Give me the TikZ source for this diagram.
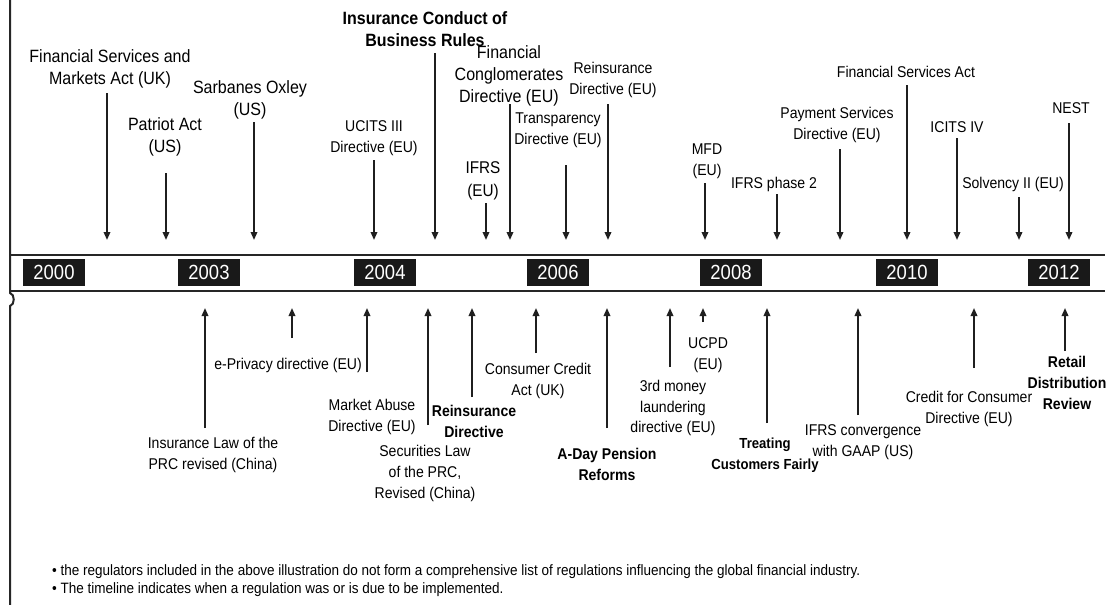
\documentclass[tikz,border=0pt]{standalone}
\usepackage{fontspec}
\setmainfont{Liberation Sans}[FakeStretch=0.9]
\usetikzlibrary{arrows.meta, positioning}

\tikzset{
	reg/.style = {align=center, inner sep=0pt, font=\fontsize{15.6}{21}\selectfont},
	regl/.style = {reg, font=\fontsize{17.8}{21.7}\selectfont},
	regb/.style = {reg, font=\fontsize{15.6}{21}\selectfont\bfseries},
	reglb/.style = {reg, font=\fontsize{17.8}{22}\selectfont\bfseries},
	regdown/.style = {line width=1.8pt, draw=black!88, -{Triangle[length=8pt, width=6.5pt]}},
	regup/.style = {regdown},
	band/.style = {line width=2pt, draw=black!85},
	yearbox/.style = {fill=black!90, text=white, minimum width=62pt, minimum height=27pt, inner sep=0pt, font=\fontsize{20.5}{20.5}\selectfont},
	note/.style = {align=left, inner sep=0pt, font=\fontsize{15}{18}\selectfont},
}

\begin{document}
\begin{tikzpicture}[x=1pt, y=-1pt]
		\useasboundingbox (0,0) rectangle (1109,605);

		% time axis
		\coordinate (axisTop) at (10,-2);
		\coordinate (axisBot) at (10,607);
		\draw [band] (axisTop) -- (10,293) .. controls (15,294) and (15,305) .. (10,306) -- (axisBot);
		\coordinate (bandTL) at (10,255);
		\coordinate (bandTR) at (1105,255);
		\coordinate (bandBL) at (10,291);
		\coordinate (bandBR) at (1105,291);
		\draw [band] (bandTL) -- (bandTR);
		\draw [band] (bandBL) -- (bandBR);

		\node [yearbox] (y2000) at (54,272.5) {2000};
		\node [yearbox] (y2003) at (209,272.5) {2003};
		\node [yearbox] (y2004) at (385,272.5) {2004};
		\node [yearbox] (y2006) at (558,272.5) {2006};
		\node [yearbox] (y2008) at (731,272.5) {2008};
		\node [yearbox] (y2010) at (907,272.5) {2010};
		\node [yearbox] (y2012) at (1059,272.5) {2012};

		% above the axis
		\node [regl] (fsma) at (110,69) {Financial Services and\\Markets Act (UK)};
		\node [regl] (patriot) at (165,137) {Patriot Act\\(US)};
		\node [regl] (sox) at (250,100) {Sarbanes Oxley\\(US)};
		\node [reg] (ucits) at (374,138) {UCITS III\\Directive (EU)};
		\node [reglb] (icobs) at (425,29) {Insurance Conduct of\\Business Rules};
		\node [reg, font=\fontsize{17}{22.5}\selectfont] (ifrs) at (483,181) {IFRS\\(EU)};
		\node [regl] (fcd) at (509,76) {Financial\\Conglomerates\\Directive (EU)};
		\node [reg] (tpd) at (558,130) {Transparency\\Directive (EU)};
		\node [reg] (reins) at (613,80) {Reinsurance\\Directive (EU)};
		\node [reg] (mfd) at (707,161) {MFD\\(EU)};
		\node [reg] (ifrsb) at (774,184) {IFRS phase 2};
		\node [reg] (psd) at (837,125) {Payment Services\\Directive (EU)};
		\node [reg] (fsa) at (906,72) {Financial Services Act};
		\node [reg] (icits) at (957,127) {ICITS IV};
		\node [reg] (solv) at (1013,184) {Solvency II (EU)};
		\node [reg] (nest) at (1071,108) {NEST};

		\coordinate (fsmaS) at (107,93);    \coordinate (fsmaE) at (107,240);
		\coordinate (patriotS) at (166,173); \coordinate (patriotE) at (166,240);
		\coordinate (soxS) at (254,122);    \coordinate (soxE) at (254,240);
		\coordinate (ucitsS) at (374,160);  \coordinate (ucitsE) at (374,240);
		\coordinate (icobsS) at (435,53);   \coordinate (icobsE) at (435,240);
		\coordinate (ifrsS) at (486,203);   \coordinate (ifrsE) at (486,240);
		\coordinate (fcdS) at (510,104);    \coordinate (fcdE) at (510,240);
		\coordinate (tpdS) at (566,165);    \coordinate (tpdE) at (566,240);
		\coordinate (reinsS) at (608,104);  \coordinate (reinsE) at (608,240);
		\coordinate (mfdS) at (705,183);    \coordinate (mfdE) at (705,240);
		\coordinate (ifrsbS) at (777,194);  \coordinate (ifrsbE) at (777,240);
		\coordinate (psdS) at (840,149);    \coordinate (psdE) at (840,240);
		\coordinate (fsaS) at (907,85);     \coordinate (fsaE) at (907,240);
		\coordinate (icitsS) at (957,138);  \coordinate (icitsE) at (957,240);
		\coordinate (solvS) at (1019,197);  \coordinate (solvE) at (1019,240);
		\coordinate (nestS) at (1069,123);  \coordinate (nestE) at (1069,240);

		\draw [regdown] (fsmaS) -- (fsmaE);
		\draw [regdown] (patriotS) -- (patriotE);
		\draw [regdown] (soxS) -- (soxE);
		\draw [regdown] (ucitsS) -- (ucitsE);
		\draw [regdown] (icobsS) -- (icobsE);
		\draw [regdown] (ifrsS) -- (ifrsE);
		\draw [regdown] (fcdS) -- (fcdE);
		\draw [regdown] (tpdS) -- (tpdE);
		\draw [regdown] (reinsS) -- (reinsE);
		\draw [regdown] (mfdS) -- (mfdE);
		\draw [regdown] (ifrsbS) -- (ifrsbE);
		\draw [regdown] (psdS) -- (psdE);
		\draw [regdown] (fsaS) -- (fsaE);
		\draw [regdown] (icitsS) -- (icitsE);
		\draw [regdown] (solvS) -- (solvE);
		\draw [regdown] (nestS) -- (nestE);

		% below the axis
		\node [reg] (inslaw) at (213,455) {Insurance Law of the\\PRC revised (China)};
		\node [reg] (epriv) at (288,365) {e-Privacy directive (EU)};
		\node [reg] (mad) at (372,417) {Market Abuse\\Directive (EU)};
		\node [reg] (seclaw) at (425,473) {Securities Law\\of the PRC,\\Revised (China)};
		\node [regb] (reinsb) at (474,421) {Reinsurance\\Directive};
		\node [reg] (cca) at (538,381) {Consumer Credit\\Act (UK)};
		\node [regb] (aday) at (607,464) {A-Day Pension\\Reforms};
		\node [reg, font=\fontsize{15.6}{20.5}\selectfont] (aml) at (673,408) {3rd money\\laundering\\directive (EU)};
		\node [reg] (ucpd) at (708,355) {UCPD\\(EU)};
		\node [regb, font=\fontsize{14.6}{21}\selectfont\bfseries] (tcf) at (765,455) {Treating\\Customers Fairly};
		\node [reg] (gaap) at (863,442) {IFRS convergence\\with GAAP (US)};
		\node [reg] (ccd) at (969,409) {Credit for Consumer\\Directive (EU)};
		\node [regb] (rdr) at (1067,383) {Retail\\Distribution\\Review};

		\coordinate (inslawS) at (205,428); \coordinate (inslawE) at (205,308);
		\coordinate (eprivS) at (292,338);  \coordinate (eprivE) at (292,308);
		\coordinate (madS) at (367,372);    \coordinate (madE) at (367,308);
		\coordinate (seclawS) at (428,425); \coordinate (seclawE) at (428,308);
		\coordinate (reinsbS) at (472,397); \coordinate (reinsbE) at (472,308);
		\coordinate (ccaS) at (536,353);    \coordinate (ccaE) at (536,308);
		\coordinate (adayS) at (607,428);   \coordinate (adayE) at (607,308);
		\coordinate (amlS) at (670,367);    \coordinate (amlE) at (670,308);
		\coordinate (ucpdS) at (703,322);   \coordinate (ucpdE) at (703,308);
		\coordinate (tcfS) at (767,423);    \coordinate (tcfE) at (767,308);
		\coordinate (gaapS) at (858,415);   \coordinate (gaapE) at (858,308);
		\coordinate (ccdS) at (974,368);    \coordinate (ccdE) at (974,308);
		\coordinate (rdrS) at (1065,351);   \coordinate (rdrE) at (1065,308);

		\draw [regup] (inslawS) -- (inslawE);
		\draw [regup] (eprivS) -- (eprivE);
		\draw [regup] (madS) -- (madE);
		\draw [regup] (seclawS) -- (seclawE);
		\draw [regup] (reinsbS) -- (reinsbE);
		\draw [regup] (ccaS) -- (ccaE);
		\draw [regup] (adayS) -- (adayE);
		\draw [regup] (amlS) -- (amlE);
		\draw [regup] (ucpdS) -- (ucpdE);
		\draw [regup] (tcfS) -- (tcfE);
		\draw [regup] (gaapS) -- (gaapE);
		\draw [regup] (ccdS) -- (ccdE);
		\draw [regup] (rdrS) -- (rdrE);

		% footnotes
		\node [note, anchor=west] (notes) at (52,581) {• the regulators included in the above illustration do not form a comprehensive list of regulations influencing the global financial industry.\\• The timeline indicates when a regulation was or is due to be implemented.};
	\end{tikzpicture}
\end{document}
